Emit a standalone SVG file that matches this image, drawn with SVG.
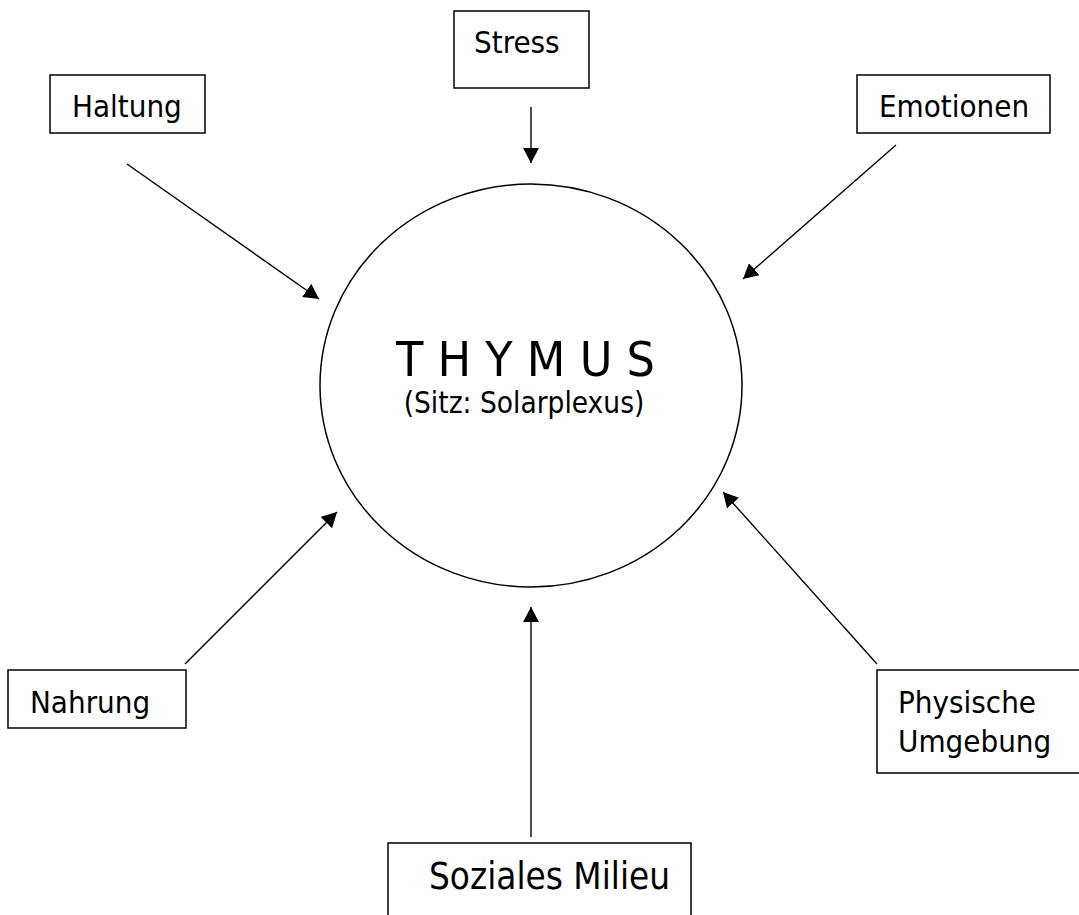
<svg xmlns="http://www.w3.org/2000/svg" width="1079" height="915" viewBox="0 0 1079 915">
<style>
.box{fill:#fff;stroke:#000;stroke-width:1.5}
.t{font-family:"DejaVu Sans Condensed","DejaVu Sans",sans-serif;font-stretch:condensed;font-size:31px;fill:#000}
.c{fill:none;stroke:#000;stroke-width:1.4;marker-end:url(#ah)}
</style>
<defs>
<marker id="ah" markerUnits="userSpaceOnUse" markerWidth="16" markerHeight="16" refX="15" refY="8" orient="auto" viewBox="0 0 16 16">
<path d="M0,0 L15,8 L0,16 Z" fill="#000"/>
</marker>
</defs>
<rect width="1079" height="915" fill="#fff"/>
<g id="thymus">
<ellipse cx="531" cy="385.5" rx="211" ry="201.5" fill="#fff" stroke="#000" stroke-width="1.5"/>
<text class="t" x="525.5" y="376" text-anchor="middle" style="font-size:48px" textLength="259" lengthAdjust="spacingAndGlyphs">T H Y M U S</text>
<text class="t" x="524" y="413" text-anchor="middle" style="font-size:29.5px">(Sitz: Solarplexus)</text>
</g>
<g id="stress">
<rect class="box" x="454" y="11" width="135" height="77"/>
<text class="t" x="474" y="53">Stress</text>
</g>
<g id="haltung">
<rect class="box" x="50" y="75" width="155" height="58"/>
<text class="t" x="72" y="117">Haltung</text>
</g>
<g id="emotionen">
<rect class="box" x="857" y="75" width="193" height="58"/>
<text class="t" x="879" y="117">Emotionen</text>
</g>
<g id="nahrung">
<rect class="box" x="8" y="670" width="178" height="58"/>
<text class="t" x="30" y="713">Nahrung</text>
</g>
<g id="physische">
<rect class="box" x="877" y="670" width="203" height="103"/>
<text class="t" x="898" y="713">Physische</text>
<text class="t" x="898" y="752">Umgebung</text>
</g>
<g id="soziales">
<rect class="box" x="388" y="843" width="303" height="90"/>
<text class="t" x="429" y="889" style="font-size:36.5px">Soziales Milieu</text>
</g>
<g id="connectors">
<line class="c" x1="531" y1="107" x2="531" y2="163"/>
<line class="c" x1="127" y1="164" x2="319" y2="299"/>
<line class="c" x1="896" y1="145" x2="743" y2="279"/>
<line class="c" x1="185" y1="664" x2="337" y2="512"/>
<line class="c" x1="877" y1="664" x2="723" y2="492"/>
<line class="c" x1="531" y1="837" x2="531" y2="607"/>
</g>
</svg>
